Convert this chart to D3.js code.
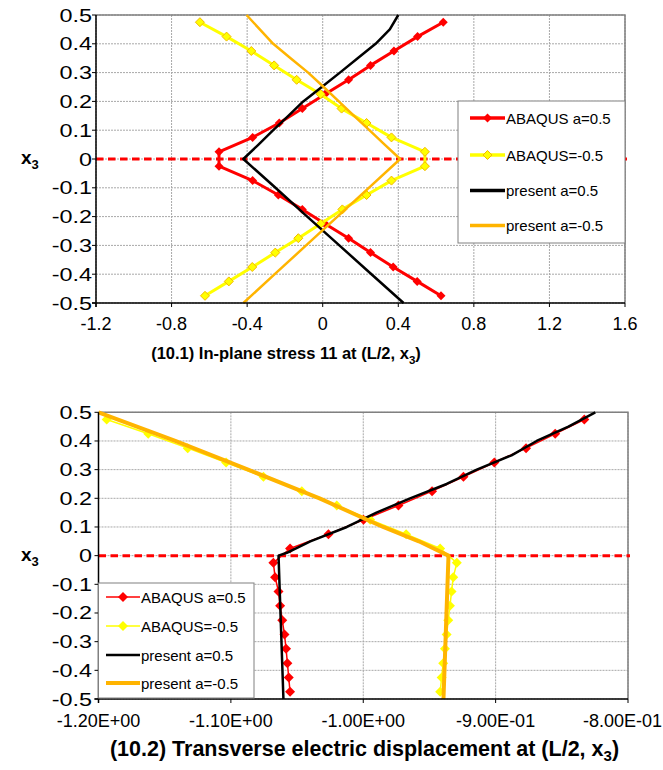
<!DOCTYPE html>
<html>
<head>
<meta charset="utf-8">
<script src="https://cdnjs.cloudflare.com/ajax/libs/d3/7.8.5/d3.min.js"></script>
<style>
  body { margin: 0; background: #fff; }
  svg text { font-family: Arial, "Liberation Sans", sans-serif; fill: #000; }
</style>
</head>
<body>
<svg id="chart" width="663" height="770"></svg>
<script>
// x3 positions of the ABAQUS sample points (top to bottom)
var x3Abaqus = [0.475, 0.425, 0.375, 0.325, 0.275, 0.225, 0.175, 0.125, 0.075, 0.025,
                -0.025, -0.075, -0.125, -0.175, -0.225, -0.275, -0.325, -0.375, -0.425, -0.475];

// (10.1) in-plane stress 11
var stressAbaqusPos = [0.638, 0.502, 0.377, 0.253, 0.137, 0.012, -0.108, -0.230, -0.371, -0.549,
                       -0.549, -0.371, -0.235, -0.108, 0.012, 0.137, 0.253, 0.373, 0.500, 0.626];
var stressAbaqusNeg = [-0.650, -0.509, -0.378, -0.257, -0.138, -0.011, 0.100, 0.232, 0.364, 0.541,
                       0.541, 0.364, 0.232, 0.104, -0.011, -0.129, -0.251, -0.373, -0.497, -0.623];
var x3StressPresent = [0.5, 0.45, 0.4, 0.35, 0.3, 0.25, 0.2, 0.15, 0.1, 0.05, 0, -0.1, -0.2, -0.3, -0.4, -0.5];
var stressPresentPos = [0.400, 0.355, 0.280, 0.185, 0.091, -0.005, -0.103, -0.182, -0.262, -0.340, -0.420,
                        -0.250, -0.082, 0.088, 0.258, 0.428];
var stressPresentNeg = [-0.403, -0.333, -0.262, -0.170, -0.077, 0.005, 0.085, 0.166, 0.247, 0.328, 0.410,
                        0.244, 0.078, -0.088, -0.254, -0.420];

// (10.2) transverse electric displacement
var dispAbaqusPos = [-0.833, -0.855, -0.877, -0.901, -0.9243, -0.948, -0.9734, -0.9998, -1.0263, -1.0553,
                     -1.0679, -1.0666, -1.0640, -1.0628, -1.0612, -1.0595, -1.0583, -1.0573, -1.0563, -1.0553];
var dispAbaqusNeg = [-1.1938, -1.1624, -1.1326, -1.1036, -1.0754, -1.0464, -1.0200, -0.9948, -0.9676, -0.9419,
                     -0.9293, -0.9320, -0.9333, -0.9345, -0.9358, -0.9370, -0.9383, -0.9396, -0.9408, -0.9419];
var x3DispPresentPos = [0.5, 0.45, 0.4, 0.35, 0.3, 0.25, 0.2, 0.15, 0.1, 0.05, 0.01, 0, -0.5];
var dispPresentPos = [-0.8247, -0.845, -0.869, -0.888, -0.9142, -0.937, -0.9646, -0.990, -1.0124, -1.040, -1.0577, -1.064, -1.0603];
var x3DispPresentNeg = [0.5, 0.4, 0.3, 0.2, 0.1, 0.05, 0, -0.5];
var dispPresentNeg = [-1.2, -1.142, -1.087, -1.033, -0.985, -0.958, -0.9356, -0.9394];

var yTicks = [0.5, 0.4, 0.3, 0.2, 0.1, 0, -0.1, -0.2, -0.3, -0.4, -0.5];
var stressTicks = [-1.2, -0.8, -0.4, 0, 0.4, 0.8, 1.2, 1.6];
var dispTicks = [-1.2, -1.1, -1.0, -0.9, -0.8];
var legendNames = ["ABAQUS a=0.5", "ABAQUS=-0.5", "present a=0.5", "present a=-0.5"];

var svg = d3.select("#chart");
var W = 663;

function diamond(r) {
  return "M0," + (-r) + "L" + r + ",0L0," + r + "L" + (-r) + ",0Z";
}

function DrawChart(c) {
  var x = d3.scaleLinear().domain(c.xDomain).range([c.left, c.right]);
  var y = d3.scaleLinear().domain([-0.5, 0.5]).range([c.bottom, c.top]);
  var g = svg.append("g");

  // grid
  g.selectAll("line.hgrid").data(yTicks).enter().append("line")
    .attr("x1", c.left).attr("x2", c.right)
    .attr("y1", function(d) { return y(d); }).attr("y2", function(d) { return y(d); })
    .style("stroke", "#a8a8a8").style("stroke-width", 1).style("stroke-dasharray", "2,1");
  g.selectAll("line.vgrid").data(c.xTicks).enter().append("line")
    .attr("y1", c.top).attr("y2", c.bottom)
    .attr("x1", function(d) { return x(d); }).attr("x2", function(d) { return x(d); })
    .style("stroke", "#a8a8a8").style("stroke-width", 1).style("stroke-dasharray", "2,1");

  // frame: top/right gray, axes black
  g.append("path").attr("d", "M" + c.left + "," + c.top + "H" + c.right + "V" + c.bottom)
    .style("fill", "none").style("stroke", "#808080").style("stroke-width", 1.5);

  // zero line
  g.append("line").attr("x1", c.left).attr("x2", c.right + 2)
    .attr("y1", y(0)).attr("y2", y(0))
    .style("stroke", "#ff0000").style("stroke-width", 3).style("stroke-dasharray", "7.5,4.5");

  var line = d3.line().x(function(d) { return x(d[0]); }).y(function(d) { return y(d[1]); });

  c.series.forEach(function(s) {
    var pts = d3.zip(s.values, s.x3);
    g.append("path").attr("d", line(pts))
      .style("fill", "none").style("stroke", s.color).style("stroke-width", s.width)
      .style("stroke-linejoin", "round");
    if (s.marker) {
      g.selectAll(null).data(pts).enter().append("path")
        .attr("d", diamond(s.marker.r))
        .attr("transform", function(d) { return "translate(" + x(d[0]) + "," + y(d[1]) + ")"; })
        .style("fill", s.marker.fill).style("stroke", s.marker.stroke || "none").style("stroke-width", 1);
    }
  });

  // axes
  g.append("line").attr("x1", c.left).attr("x2", c.left).attr("y1", c.top).attr("y2", c.bottom + 4)
    .style("stroke", "#000").style("stroke-width", 1.5);
  g.append("line").attr("x1", c.left - 4).attr("x2", c.right).attr("y1", c.bottom).attr("y2", c.bottom)
    .style("stroke", "#000").style("stroke-width", 1.5);
  g.selectAll("line.xtick").data(c.xTicks).enter().append("line")
    .attr("x1", function(d) { return x(d); }).attr("x2", function(d) { return x(d); })
    .attr("y1", c.bottom).attr("y2", c.bottom + 4)
    .style("stroke", "#000").style("stroke-width", 1);
  g.selectAll("line.ytick").data(yTicks).enter().append("line")
    .attr("x1", c.left - 4).attr("x2", c.left)
    .attr("y1", function(d) { return y(d); }).attr("y2", function(d) { return y(d); })
    .style("stroke", "#000").style("stroke-width", 1);

  // y labels are drawn a bit wide in the original
  g.selectAll("text.ylab").data(yTicks).enter().append("text")
    .attr("transform", function(d) { return "translate(92," + (y(d) + 6.5) + ") scale(1.3,1)"; })
    .attr("text-anchor", "end").style("font-size", "18px")
    .text(function(d) { return d3.format(".1f")(d).replace("0.0", "0").replace("−", "-"); });
  g.selectAll("text.xlab").data(c.xTicks).enter().append("text")
    .attr("x", function(d) { return x(d); }).attr("y", c.xLabelY)
    .attr("text-anchor", "middle").style("font-size", "18px")
    .text(c.xFormat)
    .each(function() {
      // keep the last label inside the page
      var len = this.getComputedTextLength(), cx = +d3.select(this).attr("x");
      if (cx + len / 2 > W - 1) d3.select(this).attr("x", W - 1).attr("text-anchor", "end");
    });

  // x3 axis title
  var t = g.append("text").attr("x", 21).attr("y", y(0) + 5).style("font-size", "19px").style("font-weight", "bold");
  t.append("tspan").text("x");
  t.append("tspan").attr("dy", 5).style("font-size", "13px").text("3");

  // chart title
  var tt = g.append("text").attr("x", c.titleX).attr("y", c.titleY).attr("text-anchor", "middle")
    .style("font-size", c.titleSize + "px").style("font-weight", "bold");
  tt.append("tspan").text(c.title + " at (L/2, x");
  tt.append("tspan").attr("dy", 5).style("font-size", (c.titleSize * 0.7) + "px").text("3");
  tt.append("tspan").attr("dy", -5).text(")");

  // legend
  var L = c.legend;
  g.append("rect").attr("x", L.x).attr("y", L.y).attr("width", L.w).attr("height", L.h)
    .style("fill", "#fff").style("stroke", "#808080").style("stroke-width", 1);
  c.series.forEach(function(s, i) {
    var ly = L.rows[i];
    g.append("line").attr("x1", L.lx1).attr("x2", L.lx2).attr("y1", ly).attr("y2", ly)
      .style("stroke", s.color).style("stroke-width", L.lw || s.width);
    if (s.marker) {
      g.append("path").attr("d", diamond(s.marker.r))
        .attr("transform", "translate(" + ((L.lx1 + L.lx2) / 2) + "," + ly + ")")
        .style("fill", s.marker.fill).style("stroke", s.marker.stroke || "none").style("stroke-width", 1);
    }
    g.append("text").attr("x", L.lx2 + 1).attr("y", ly + 5.5).style("font-size", "15px").text(legendNames[i]);
  });
}

DrawChart({
  left: 96, right: 625, top: 15, bottom: 303,
  xDomain: [-1.2, 1.6], xTicks: stressTicks, xLabelY: 330,
  xFormat: function(d) { return d === 0 ? "0" : d3.format(".1f")(d).replace("−", "-"); },
  title: "(10.1) In-plane stress 11", titleX: 286, titleY: 359, titleSize: 16.5,
  legend: { x: 458, y: 101, w: 167, h: 142, lx1: 470, lx2: 505, lw: 3.5, rows: [118, 155, 190.5, 225.5] },
  series: [
    { values: stressAbaqusPos, x3: x3Abaqus, color: "#ff0000", width: 3, marker: { r: 4.5, fill: "#ff0000" } },
    { values: stressAbaqusNeg, x3: x3Abaqus, color: "#ffff00", width: 3, marker: { r: 4.5, fill: "#ffff00", stroke: "#f2b800" } },
    { values: stressPresentPos, x3: x3StressPresent, color: "#000000", width: 2.5 },
    { values: stressPresentNeg, x3: x3StressPresent, color: "#ffb400", width: 2.5 }
  ]
});

DrawChart({
  left: 98.5, right: 628, top: 412.3, bottom: 699,
  xDomain: [-1.2, -0.8], xTicks: dispTicks, xLabelY: 726.5,
  xFormat: function(d) {
    var e = d3.format(".2e")(Math.abs(d)).toUpperCase().split("E");
    var ex = +e[1];
    return "-" + e[0] + "E" + (ex < 0 ? "-" : "+") + d3.format("02d")(Math.abs(ex));
  },
  title: "(10.2) Transverse electric displacement", titleX: 364.5, titleY: 756, titleSize: 21.5,
  legend: { x: 98.5, y: 583, w: 155.5, h: 115, lx1: 106, lx2: 140, rows: [597, 626, 655, 683] },
  series: [
    { values: dispAbaqusPos, x3: x3Abaqus, color: "#ff0000", width: 1.5, marker: { r: 5, fill: "#ff0000" } },
    { values: dispAbaqusNeg, x3: x3Abaqus, color: "#ffff00", width: 1.5, marker: { r: 5, fill: "#ffff00" } },
    { values: dispPresentPos, x3: x3DispPresentPos, color: "#000000", width: 2.5 },
    { values: dispPresentNeg, x3: x3DispPresentNeg, color: "#ffb400", width: 4 }
  ]
});
</script>
</body>
</html>
